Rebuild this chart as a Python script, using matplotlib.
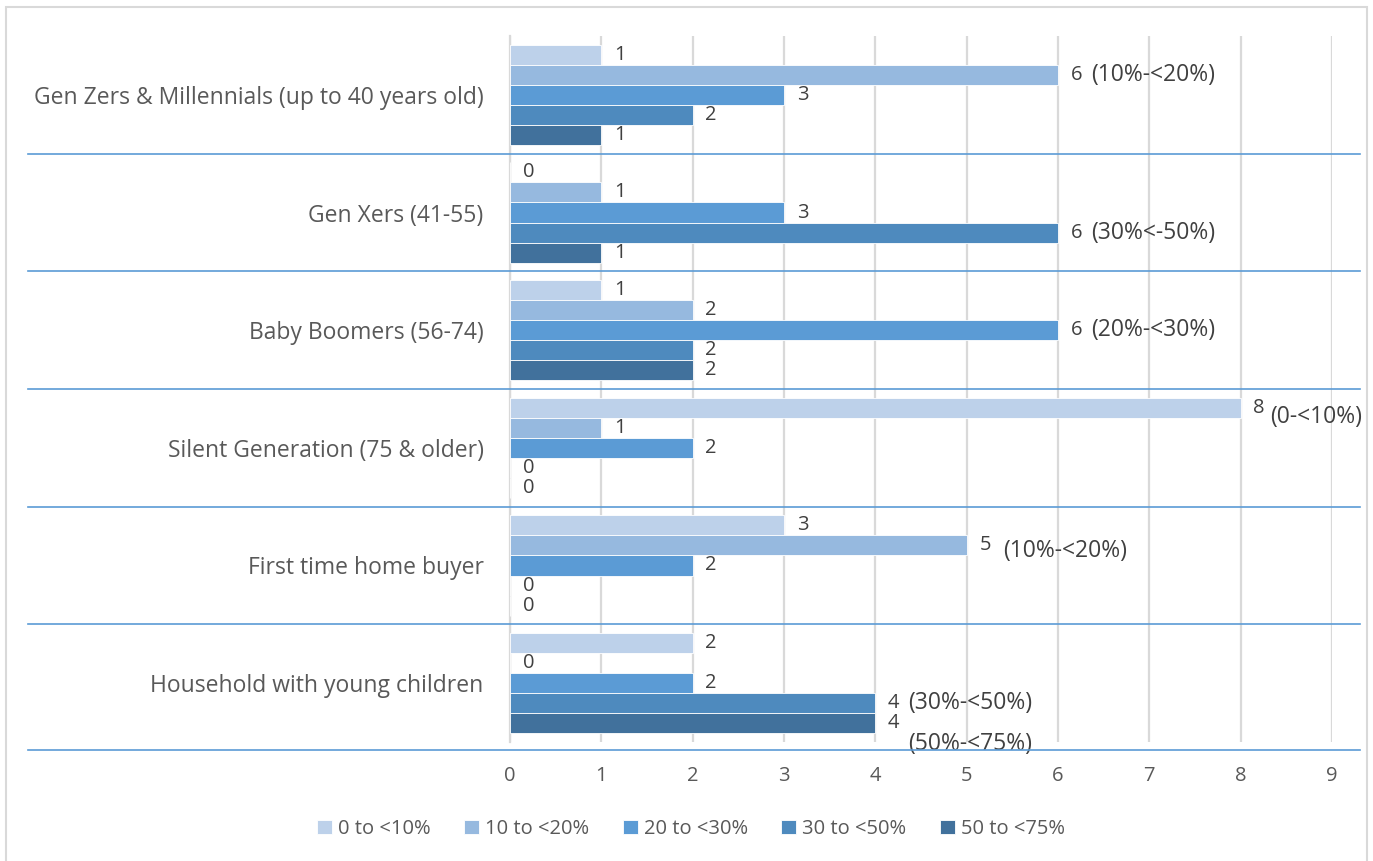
import numpy as np
import matplotlib.pyplot as plt
from matplotlib.patches import Rectangle
from matplotlib.lines import Line2D
from matplotlib.transforms import blended_transform_factory

categories = [
    'Gen Zers & Millennials (up to 40 years old)',
    'Gen Xers (41-55)',
    'Baby Boomers (56-74)',
    'Silent Generation (75 & older)',
    'First time home buyer',
    'Household with young children',
]
series_names = ['0 to <10%', '10 to <20%', '20 to <30%', '30 to <50%', '50 to <75%']
s_0_10 = [1, 0, 1, 8, 3, 2]
s_10_20 = [6, 1, 2, 1, 5, 0]
s_20_30 = [3, 3, 6, 2, 2, 2]
s_30_50 = [2, 6, 2, 0, 0, 4]
s_50_75 = [1, 1, 2, 0, 0, 4]
x_ticks = list(range(0, 10))

# extra notes: (category index, series index, text)
notes = [
    (0, 1, '(10%-<20%)'),
    (1, 3, '(30%<-50%)'),
    (2, 2, '(20%-<30%)'),
    (3, 0, '(0-<10%)'),
    (4, 1, '(10%-<20%)'),
    (5, 3, '(30%-<50%)'),
    (5, 4, '(50%-<75%)'),
]

series = [s_0_10, s_10_20, s_20_30, s_30_50, s_50_75]
colors = ['#BDD1EA', '#96B9DF', '#5B9BD5', '#4E8ABE', '#41719C']
txt = '#595959'

plt.rcParams['font.family'] = ['Open Sans', 'DejaVu Sans']

fig = plt.figure(figsize=(13.73, 8.61), dpi=100)
ax = fig.add_axes([510 / 1373, 1 - 742 / 861, 822 / 1373, 706 / 861])

bar_h = 0.17
y = np.arange(len(categories))
for j, vals in enumerate(series):
    pos = y - 0.425 + bar_h * (j + 0.5)
    ax.barh(pos, vals, height=bar_h, color=colors[j], label=series_names[j],
            edgecolor='white', linewidth=0.6, zorder=3)
    for p, v in zip(pos, vals):
        ax.text(v + 0.14, p, str(v), va='center', ha='left', fontsize=14.5,
                color='#404040', zorder=4)

for ci, sj, t in notes:
    v = series[sj][ci]
    p = ci - 0.425 + bar_h * (sj + 0.5)
    dy = 0.0
    dx = 0.36
    if ci == 3:
        dy = 0.08
        dx = 0.32
    if ci == 4:
        dy = 0.05
        dx = 0.4
    if ci == 5 and sj == 4:
        dy = 0.18
    ax.text(v + dx, p + dy, t, va='center', ha='left', fontsize=16.5,
            color='#404040', zorder=4)

ax.set_xlim(0, 9)
ax.set_ylim(len(categories) - 0.5, -0.5)
ax.set_xticks(x_ticks)
ax.set_yticks(y)
ax.set_yticklabels(categories, fontsize=16.5, color=txt)
ax.tick_params(axis='x', labelsize=14.5, colors=txt, length=0, pad=17)
ax.tick_params(axis='y', length=0, pad=19)
ax.grid(axis='x', color='#D9D9D9', linewidth=1.6, zorder=0)
for s in ['top', 'right', 'bottom']:
    ax.spines[s].set_visible(False)
ax.spines['left'].set_color('#D9D9D9')
ax.spines['left'].set_linewidth(1.6)

# separators between groups
tr = blended_transform_factory(fig.transFigure, ax.transData)
seps = list(np.arange(len(categories)) + 0.5)
seps[-1] += 0.07
for s in seps:
    fig.add_artist(Line2D([28 / 1373, 1360 / 1373], [s, s], transform=tr,
                          color='#5B9BD5', linewidth=1.2, zorder=5))

fig.add_artist(Rectangle((6 / 1373, -0.01), 1361 / 1373, 1 - 7 / 861 + 0.01,
                         transform=fig.transFigure, fill=False,
                         edgecolor='#D9D9D9', linewidth=1.5))

handles, labels = ax.get_legend_handles_labels()
fig.legend(handles, labels, loc='center', bbox_to_anchor=(691 / 1373, 1 - 829 / 861),
           ncol=5, frameon=False, fontsize=14.5, labelcolor=txt,
           handlelength=0.75, handleheight=0.75, handletextpad=0.3, columnspacing=1.65)

plt.savefig('out.png', dpi=100)
